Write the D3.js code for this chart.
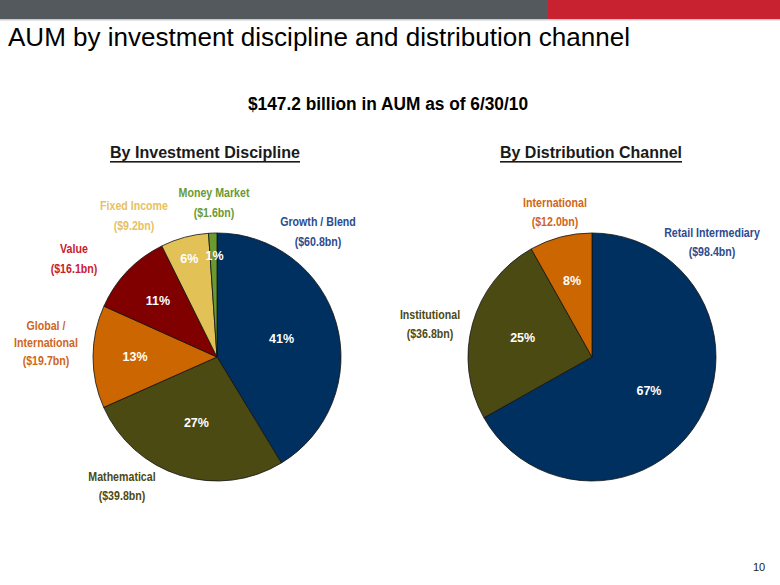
<!DOCTYPE html>
<html>
<head>
<meta charset="utf-8">
<title>AUM by investment discipline and distribution channel</title>
<style>
  body { margin: 0; background: #fff; }
  svg { display: block; font-family: "Liberation Sans", Arial, sans-serif; }
  .lbl { font-family: "Liberation Sans Narrow", "Arial Narrow", "Liberation Sans", Arial, sans-serif; font-weight: bold; font-size: 12.5px; }
  .pct { font-weight: bold; font-size: 12.5px; fill: #fff; }
</style>
</head>
<body>
<svg width="780" height="585"></svg>
<script src="https://cdn.jsdelivr.net/npm/d3@7"></script>
<script>
// by investment discipline ($bn)
var disciplines = ["Growth / Blend", "Mathematical", "Global / International", "Value", "Fixed Income", "Money Market"];
var disciplineValues = [60.8, 39.8, 19.7, 16.1, 9.2, 1.6];
var disciplinePct = ["41%", "27%", "13%", "11%", "6%", "1%"];

// by distribution channel ($bn)
var channels = ["Retail Intermediary", "Institutional", "International"];
var channelValues = [98.4, 36.8, 12.0];
var channelPct = ["67%", "25%", "8%"];

var svg = d3.select("svg");

// header bar
svg.append("rect").attr("x", 0).attr("y", 0).attr("width", 548).attr("height", 19).attr("fill", "#54595d");
svg.append("rect").attr("x", 548).attr("y", 0).attr("width", 232).attr("height", 19).attr("fill", "#c8212f");
svg.append("rect").attr("x", 0).attr("y", 19).attr("width", 780).attr("height", 1.5).attr("fill", "#c9cbcd");

svg.append("text")
    .attr("x", 8).attr("y", 46)
    .attr("font-size", 26.5)
    .attr("textLength", 622).attr("lengthAdjust", "spacingAndGlyphs")
    .attr("fill", "#000")
    .text("AUM by investment discipline and distribution channel");

svg.append("text")
    .attr("x", 388).attr("y", 110)
    .attr("text-anchor", "middle")
    .attr("font-size", 17.5).attr("font-weight", "bold")
    .attr("textLength", 280).attr("lengthAdjust", "spacingAndGlyphs")
    .text("$147.2 billion in AUM as of 6/30/10");

svg.append("text")
    .attr("x", 753).attr("y", 571)
    .attr("font-size", 11)
    .attr("fill", "#222")
    .text("10");

function header(cx, txt, w) {
  svg.append("text")
      .attr("x", cx).attr("y", 158)
      .attr("text-anchor", "middle")
      .attr("font-size", 17).attr("font-weight", "bold")
      .attr("textLength", w).attr("lengthAdjust", "spacingAndGlyphs")
      .attr("fill", "#1a1a1a")
      .text(txt);
  svg.append("rect")
      .attr("x", cx - w / 2).attr("y", 161)
      .attr("width", w).attr("height", 1.6)
      .attr("fill", "#1a1a1a");
}
header(205, "By Investment Discipline", 190);
header(591, "By Distribution Channel", 182);

var radius = 124;
var pie = d3.pie().sort(null).value(function(d) { return d; });
var arc = d3.arc().innerRadius(0).outerRadius(radius);

function drawPie(cx, cy, values, colors, pcts, pctR) {
  var g = svg.append("g").attr("transform", "translate(" + cx + "," + cy + ")");
  var arcs = pie(values);
  g.selectAll("path")
    .data(arcs)
    .enter().append("path")
      .attr("d", arc)
      .attr("fill", function(d, i) { return colors[i]; })
      .attr("stroke", "#111")
      .attr("stroke-width", 0.8);
  g.selectAll("text")
    .data(arcs)
    .enter().append("text")
      .attr("class", "pct")
      .attr("text-anchor", "middle")
      .attr("dy", "0.35em")
      .attr("transform", function(d, i) {
        var a = (d.startAngle + d.endAngle) / 2, r = pctR[i][0];
        return "translate(" + (Math.sin(a) * r + pctR[i][1]) + "," + (-Math.cos(a) * r) + ")";
      })
      .text(function(d, i) { return pcts[i]; });
}

drawPie(217, 357, disciplineValues,
  ["#00305f", "#4c4a13", "#cc6600", "#800000", "#e2c257", "#6b9a32"],
  disciplinePct, [[67, 0], [69, 0], [82, 0], [82, 0], [102, -1], [101, 1]]);

drawPie(592, 357, channelValues,
  ["#00305f", "#4c4a13", "#cc6600"],
  channelPct, [[66, 0], [72, 0], [79, 0]]);

// outside category labels (narrowed, the original uses a condensed face)
function label(x, ys, lines, color) {
  var t = svg.append("text")
      .attr("class", "lbl")
      .attr("text-anchor", "middle")
      .attr("fill", color);
  lines.forEach(function(s, i) {
    var ts = t.append("tspan").attr("x", x).attr("y", ys[i]).text(s);
    var w = ts.node().getComputedTextLength();
    ts.attr("textLength", w * 0.85).attr("lengthAdjust", "spacingAndGlyphs");
  });
}

function amount(v) { return "($" + v.toFixed(1) + "bn)"; }

label(318, [226, 246], [disciplines[0], amount(disciplineValues[0])], "#2d4b8e");
label(122, [481, 500], [disciplines[1], amount(disciplineValues[1])], "#4c4a13");
label(46, [330, 347, 365], ["Global /", "International", amount(disciplineValues[2])], "#d0661a");
label(74, [253, 273], [disciplines[3], amount(disciplineValues[3])], "#c9202e");
label(134, [210, 230], [disciplines[4], amount(disciplineValues[4])], "#e6c263");
label(214, [197, 217], [disciplines[5], amount(disciplineValues[5])], "#6b9a32");

label(712, [237, 256], [channels[0], amount(channelValues[0])], "#2d4b8e");
label(430, [319, 338], [channels[1], amount(channelValues[1])], "#4c4a13");
label(555, [207, 226], [channels[2], amount(channelValues[2])], "#d0661a");
</script>
</body>
</html>
